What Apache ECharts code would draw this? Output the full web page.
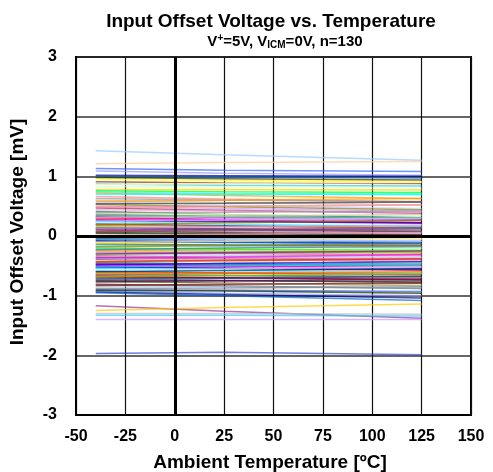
<!DOCTYPE html>
<html><head><meta charset="utf-8">
<script src="https://cdn.jsdelivr.net/npm/echarts@6/dist/echarts.min.js"></script>
<style>html,body{margin:0;padding:0;background:#fff}#c{width:493px;height:472px}</style>
</head><body><div id="c"></div>
<script>
const temps = [-40, 25, 125];
const vAtM40 = [1.43,1.21,1.13,1.09,1.02,1.00,0.95,0.91,0.87,0.83,0.78,0.76,0.74,0.72,0.66,0.63,0.60,0.57,0.53,0.50,0.47,0.44,0.41,0.38,0.36,0.34,0.32,0.30,0.28,0.26,0.24,0.22,0.20,0.18,0.16,0.14,0.12,0.10,0.08,0.06,0.04,0.02,0.00,-0.01,-0.03,-0.04,-0.06,-0.08,-0.10,-0.12,-0.14,-0.15,-0.17,-0.19,-0.21,-0.22,-0.24,-0.26,-0.28,-0.29,-0.31,-0.33,-0.35,-0.36,-0.38,-0.40,-0.42,-0.44,-0.46,-0.47,-0.49,-0.51,-0.53,-0.55,-0.57,-0.59,-0.61,-0.63,-0.65,-0.67,-0.69,-0.71,-0.74,-0.76,-0.79,-0.81,-0.84,-0.87,-0.90,-0.92,-0.94,-0.95,-1.17,-1.25,-1.30,-1.33,-1.40,-1.97,0.70,0.58,0.48,0.39,0.31,0.25,0.19,0.13,0.07,0.01,-0.05,-0.11,-0.18,-0.23,-0.30,-0.37,-0.43,-0.48,-0.52,-0.56,-0.60,-0.64,-0.68,-0.72,-0.77,-0.83,-0.88,-0.91,0.98,0.86,0.54,-0.02];
const vAt25 = [1.36,1.23,1.10,1.05,1.01,0.99,0.93,0.89,0.85,0.82,0.78,0.74,0.71,0.68,0.62,0.60,0.56,0.52,0.49,0.46,0.43,0.42,0.36,0.36,0.33,0.31,0.27,0.28,0.25,0.24,0.20,0.21,0.17,0.16,0.12,0.12,0.10,0.06,0.07,0.04,0.02,0.00,-0.01,-0.03,-0.04,-0.07,-0.07,-0.10,-0.11,-0.15,-0.15,-0.17,-0.19,-0.22,-0.22,-0.25,-0.26,-0.29,-0.29,-0.32,-0.33,-0.36,-0.36,-0.39,-0.40,-0.43,-0.43,-0.47,-0.47,-0.50,-0.51,-0.54,-0.54,-0.58,-0.58,-0.62,-0.62,-0.66,-0.66,-0.70,-0.70,-0.74,-0.75,-0.79,-0.80,-0.84,-0.85,-0.90,-0.91,-0.96,-0.98,-1.00,-1.26,-1.20,-1.30,-1.33,-1.40,-1.95,0.70,0.60,0.50,0.40,0.33,0.27,0.22,0.15,0.10,0.03,-0.03,-0.09,-0.16,-0.20,-0.28,-0.35,-0.41,-0.46,-0.50,-0.55,-0.58,-0.62,-0.66,-0.71,-0.75,-0.81,-0.87,-0.92,0.96,0.88,0.55,-0.05];
const vAt125 = [1.27,1.25,1.08,1.02,1.00,0.97,0.91,0.88,0.84,0.80,0.77,0.73,0.69,0.63,0.57,0.58,0.52,0.46,0.44,0.42,0.38,0.40,0.31,0.34,0.30,0.28,0.22,0.26,0.21,0.22,0.16,0.19,0.13,0.14,0.08,0.10,0.07,0.02,0.05,0.01,-0.01,-0.03,-0.02,-0.06,-0.05,-0.10,-0.09,-0.12,-0.13,-0.18,-0.16,-0.20,-0.21,-0.26,-0.24,-0.28,-0.28,-0.33,-0.31,-0.36,-0.35,-0.40,-0.38,-0.43,-0.42,-0.47,-0.45,-0.51,-0.49,-0.54,-0.53,-0.58,-0.56,-0.62,-0.60,-0.65,-0.64,-0.70,-0.68,-0.74,-0.72,-0.78,-0.77,-0.83,-0.82,-0.88,-0.87,-0.94,-0.93,-1.00,-1.04,-1.08,-1.38,-1.14,-1.31,-1.34,-1.40,-1.99,0.71,0.63,0.52,0.42,0.36,0.30,0.26,0.18,0.14,0.06,0.00,-0.05,-0.13,-0.17,-0.25,-0.31,-0.38,-0.43,-0.47,-0.52,-0.55,-0.60,-0.63,-0.68,-0.73,-0.79,-0.85,-0.96,0.94,0.90,0.57,-0.09];
const xTicks = [-50, -25, 0, 25, 50, 75, 100, 125, 150];
const yTicks = [-3, -2, -1, 0, 1, 2, 3];

const palette = ['#99CCFF','#FFCC99','#3366FF','#9999FF','#000080','#0066CC','#FFFF00','#993300','#33CCCC','#CCFFCC','#FFCC00','#00FF00','#00FFFF','#FF9900','#FF8080','#969696','#C0C0C0','#CCCCFF','#808000','#CC99FF','#993366','#FF99CC','#008080','#FFFF99','#339966','#666699','#800080','#FF00FF','#FF0000','#0000FF','#00CCFF','#CCFFFF','#003366','#FF6600','#99CC00','#333399','#660066','#800000','#808080','#003300','#333300','#FFFFCC','#333333'];
const colorOverrides = { 92: '#993399', 93: '#FFCC00', 94: '#BBBBBB', 95: '#33CCFF', 96: '#CC99FF', 97: '#3344CC' };

const series = vAtM40.map((v, i) => ({
  type: 'line', symbol: 'none', silent: true,
  data: [[temps[0], vAtM40[i]], [temps[1], vAt25[i]], [temps[2], vAt125[i]]],
  lineStyle: { width: 1.5, opacity: 0.7, color: colorOverrides[i] || palette[i % palette.length] },
  z: 3
}));
series.push({
  type: 'line', data: [], silent: true, z: 4,
  markLine: { silent: true, symbol: 'none', label: { show: false },
    lineStyle: { color: '#000', width: 3, type: 'solid' },
    data: [{ yAxis: 0 }, { xAxis: 0 }] }
});

const F = '"Liberation Sans", Arial, sans-serif';
const chart = echarts.init(document.getElementById('c'), null, { renderer: 'canvas' });
chart.setOption({
  animation: false,
  backgroundColor: '#fff',
  grid: { left: 76, right: 22, top: 57, bottom: 57, show: true, borderColor: '#000', borderWidth: 2 },
  xAxis: { type: 'value', min: xTicks[0], max: xTicks[xTicks.length - 1], interval: 25,
    axisLine: { show: true, onZero: false, lineStyle: { color: '#000', width: 2 } },
    axisTick: { show: false },
    axisLabel: { color: '#000', fontFamily: F, fontWeight: 'bold', fontSize: 16, margin: 14 },
    splitLine: { show: true, lineStyle: { color: '#111', width: 1.2 } } },
  yAxis: { type: 'value', min: yTicks[0], max: yTicks[yTicks.length - 1], interval: 1,
    axisLine: { show: true, onZero: false, lineStyle: { color: '#000', width: 2 } },
    axisTick: { show: false },
    axisLabel: { color: '#000', fontFamily: F, fontWeight: 'bold', fontSize: 16, margin: 19 },
    splitLine: { show: true, lineStyle: { color: '#333', width: 1.5 } } },
  series: series,
  graphic: [
    { type: 'text', x: 271, y: 22, style: { text: 'Input Offset Voltage vs. Temperature', fontFamily: F, fontWeight: 'bold', fontSize: 19, fill: '#000', textAlign: 'center', textVerticalAlign: 'middle' } },
    { type: 'text', x: 285, y: 42, style: { text: '{a|V}{sup|+}{a|=5V, V}{sub|ICM}{a|=0V, n=130}', fontFamily: F, fontWeight: 'bold', fontSize: 15, fill: '#000', textAlign: 'center', textVerticalAlign: 'middle',
      rich: { a: { fontFamily: F, fontWeight: 'bold', fontSize: 15, fill: '#000' },
              sup: { fontFamily: F, fontWeight: 'bold', fontSize: 10, fill: '#000', verticalAlign: 'top', padding: [0,0,7,0] },
              sub: { fontFamily: F, fontWeight: 'bold', fontSize: 10, fill: '#000', verticalAlign: 'bottom', padding: [7,0,0,0] } } } },
    { type: 'text', x: 270, y: 463, style: { text: 'Ambient Temperature [ºC]', fontFamily: F, fontWeight: 'bold', fontSize: 19, fill: '#000', textAlign: 'center', textVerticalAlign: 'middle' } },
    { type: 'text', x: 18, y: 232, rotation: Math.PI / 2, style: { text: 'Input Offset Voltage [mV]', fontFamily: F, fontWeight: 'bold', fontSize: 19, fill: '#000', textAlign: 'center', textVerticalAlign: 'middle' } }
  ]
});
</script>
</body></html>
